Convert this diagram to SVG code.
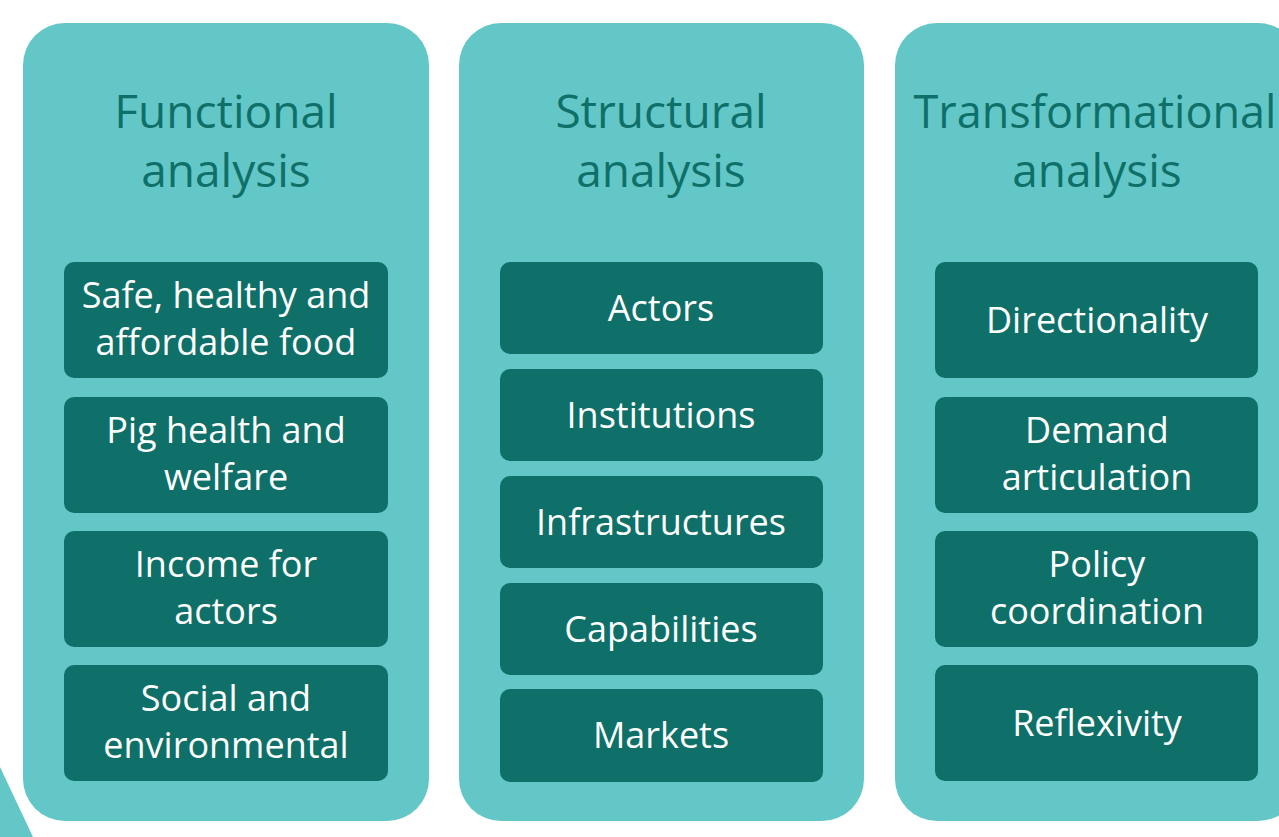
<svg xmlns="http://www.w3.org/2000/svg" width="1279" height="837" viewBox="0 0 1279 837">
<style>
.col{fill:#64C7C7}
.box{fill:#0E7068}
.title{font-family:"Open Sans","Noto Sans",sans-serif;font-size:46px;fill:#0E7068;text-anchor:middle}
.lbl{font-family:"Open Sans","Noto Sans",sans-serif;font-size:36px;fill:#FFFFFF;text-anchor:middle}
</style>
<rect width="1279" height="837" fill="#FFFFFF"/>
<polygon class="col" points="0,767 33,837 0,837"/>
<g id="col-functional">
<rect class="col" x="23" y="23" width="406" height="798" rx="42"/>
<text class="title" x="226" y="128">Functional</text>
<text class="title" x="226" y="187">analysis</text>
</g>
<g id="col-structural">
<rect class="col" x="459" y="23" width="405" height="798" rx="42"/>
<text class="title" x="661" y="128">Structural</text>
<text class="title" x="661" y="187">analysis</text>
</g>
<g id="col-transformational">
<rect class="col" x="895" y="23" width="405" height="798" rx="42"/>
<text class="title" x="1095" y="128" style="font-size:45px">Transformational</text>
<text class="title" x="1097" y="187">analysis</text>
</g>
<g id="f1"><rect class="box" x="64" y="262" width="324" height="116" rx="10"/><text class="lbl" x="226" y="308">Safe, healthy and</text><text class="lbl" x="226" y="355">affordable food</text></g>
<g id="f2"><rect class="box" x="64" y="397" width="324" height="116" rx="10"/><text class="lbl" x="226" y="443">Pig health and</text><text class="lbl" x="226" y="490">welfare</text></g>
<g id="f3"><rect class="box" x="64" y="531" width="324" height="116" rx="10"/><text class="lbl" x="226" y="577">Income for</text><text class="lbl" x="226" y="624">actors</text></g>
<g id="f4"><rect class="box" x="64" y="665" width="324" height="116" rx="10"/><text class="lbl" x="226" y="711">Social and</text><text class="lbl" x="226" y="758">environmental</text></g>
<g id="s1"><rect class="box" x="500" y="262" width="323" height="92" rx="10"/><text class="lbl" x="661" y="321">Actors</text></g>
<g id="s2"><rect class="box" x="500" y="369" width="323" height="92" rx="10"/><text class="lbl" x="661" y="428">Institutions</text></g>
<g id="s3"><rect class="box" x="500" y="476" width="323" height="92" rx="10"/><text class="lbl" x="661" y="535">Infrastructures</text></g>
<g id="s4"><rect class="box" x="500" y="583" width="323" height="92" rx="10"/><text class="lbl" x="661" y="642">Capabilities</text></g>
<g id="s5"><rect class="box" x="500" y="689" width="323" height="93" rx="10"/><text class="lbl" x="661" y="748">Markets</text></g>
<g id="t1"><rect class="box" x="935" y="262" width="323" height="116" rx="10"/><text class="lbl" x="1097" y="333">Directionality</text></g>
<g id="t2"><rect class="box" x="935" y="397" width="323" height="116" rx="10"/><text class="lbl" x="1097" y="443">Demand</text><text class="lbl" x="1097" y="490">articulation</text></g>
<g id="t3"><rect class="box" x="935" y="531" width="323" height="116" rx="10"/><text class="lbl" x="1097" y="577">Policy</text><text class="lbl" x="1097" y="624">coordination</text></g>
<g id="t4"><rect class="box" x="935" y="665" width="323" height="116" rx="10"/><text class="lbl" x="1097" y="736">Reflexivity</text></g>
<g id="connectors"/>
</svg>
